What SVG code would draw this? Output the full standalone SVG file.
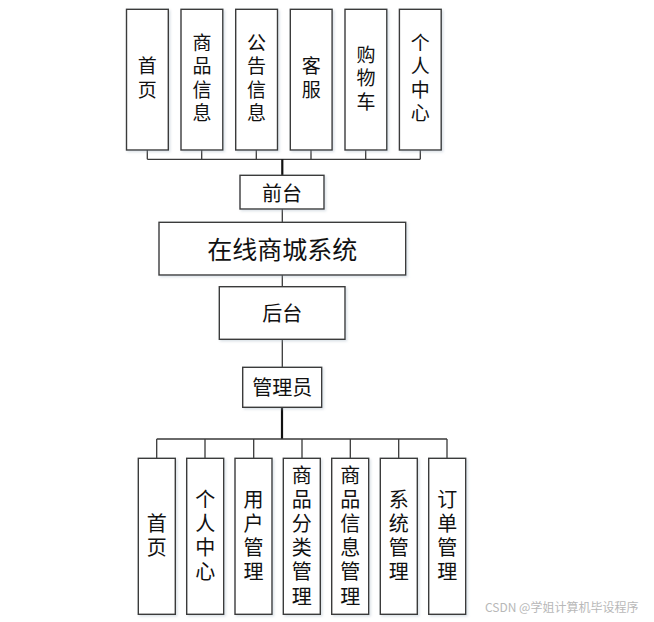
<svg xmlns="http://www.w3.org/2000/svg" width="654" height="622" viewBox="0 0 654 622">
<defs>
<filter id="sh" x="-20%" y="-20%" width="140%" height="140%">
<feDropShadow dx="1.5" dy="1.5" stdDeviation="1.2" flood-color="#9ab" flood-opacity="0.35"/>
</filter>
<style>
.box{fill:#fff;stroke:#3a3a3a;stroke-width:1.4;filter:url(#sh)}
.ln{fill:none;stroke:#3a3a3a;stroke-width:1.3}
.tr{fill:none;stroke:#111;stroke-width:2.2}
.t{font-family:"Noto Sans CJK SC","Noto Sans",sans-serif;font-size:19px;fill:#111;text-anchor:middle;dominant-baseline:central}
.v{font-family:"Noto Sans CJK SC","Noto Sans",sans-serif;font-size:19px;fill:#111;text-anchor:middle;writing-mode:vertical-rl;letter-spacing:4.5px}
.vb{font-size:20px;letter-spacing:4.2px}
.tb{font-size:20px}
.title{font-size:25px}
.wm{font-family:"Noto Sans CJK SC","Liberation Sans",sans-serif;font-size:12px;fill:#b8b8b8}
</style>
</defs>
<rect width="654" height="622" fill="#fff"/>
<g id="connectors">
<path class="ln" d="M147.3 150V159.3M201.7 150V159.3M256.3 150V159.3M311 150V159.3M365.7 150V159.3M420.3 150V159.3M147.3 159.3H420.3"/>
<path class="tr" d="M282.3 159.3V175.3"/>
<path class="ln" d="M282.3 209V222.3M282.3 275V286.7M282.3 339.3V367.3"/>
<path class="tr" d="M282 407.3V439"/>
<path class="ln" d="M156.7 439H447M156.7 439V458.3M205 439V458.3M253.7 439V458.3M302 439V458.3M350.3 439V458.3M398.7 439V458.3M447 439V458.3"/>
</g>
<g id="n-shouye"><rect class="box" x="126.5" y="9.3" width="41.8" height="140.7"/><text class="v" x="147.3" y="80.2">首页</text></g>
<g id="n-spxx"><rect class="box" x="181" y="9.3" width="41.8" height="140.7"/><text class="v" x="201.9" y="80.2">商品信息</text></g>
<g id="n-ggxx"><rect class="box" x="235.7" y="9.3" width="41.8" height="140.7"/><text class="v" x="256.6" y="80.2">公告信息</text></g>
<g id="n-kefu"><rect class="box" x="290.3" y="9.3" width="41.8" height="140.7"/><text class="v" x="311.2" y="80.2">客服</text></g>
<g id="n-gwc"><rect class="box" x="345" y="9.3" width="41.8" height="140.7"/><text class="v" x="365.9" y="80.2">购物车</text></g>
<g id="n-grzx"><rect class="box" x="399.4" y="9.3" width="41.8" height="140.7"/><text class="v" x="420.3" y="80.2">个人中心</text></g>
<g id="n-qiantai"><rect class="box" x="240" y="175.3" width="84" height="33.7"/><text class="t tb" x="282" y="192">前台</text></g>
<g id="n-system"><rect class="box" x="159" y="222.3" width="246.7" height="52.7"/><text class="t title" x="282.3" y="248">在线商城系统</text></g>
<g id="n-houtai"><rect class="box" x="219.3" y="286.7" width="125.7" height="52.6"/><text class="t tb" x="282.2" y="312.5">后台</text></g>
<g id="n-admin"><rect class="box" x="242.7" y="367.3" width="79" height="40"/><text class="t tb" x="282.2" y="386.5">管理员</text></g>
<g id="b-shouye"><rect class="box" x="138.3" y="458.3" width="37" height="156"/><text class="v vb" x="156.8" y="537.6">首页</text></g>
<g id="b-grzx"><rect class="box" x="186.7" y="458.3" width="37" height="156"/><text class="v vb" x="205.2" y="537.6">个人中心</text></g>
<g id="b-yhgl"><rect class="box" x="235" y="458.3" width="37" height="156"/><text class="v vb" x="253.5" y="537.6">用户管理</text></g>
<g id="b-spflgl"><rect class="box" x="283.3" y="458.3" width="37" height="156"/><text class="v vb" x="301.8" y="537.6">商品分类管理</text></g>
<g id="b-spxxgl"><rect class="box" x="331.7" y="458.3" width="37" height="156"/><text class="v vb" x="350.2" y="537.6">商品信息管理</text></g>
<g id="b-xtgl"><rect class="box" x="380.3" y="458.3" width="37" height="156"/><text class="v vb" x="398.8" y="537.6">系统管理</text></g>
<g id="b-ddgl"><rect class="box" x="428.7" y="458.3" width="37" height="156"/><text class="v vb" x="447.2" y="537.6">订单管理</text></g>
<text class="wm" x="485" y="612">CSDN @学姐计算机毕设程序</text>
</svg>
